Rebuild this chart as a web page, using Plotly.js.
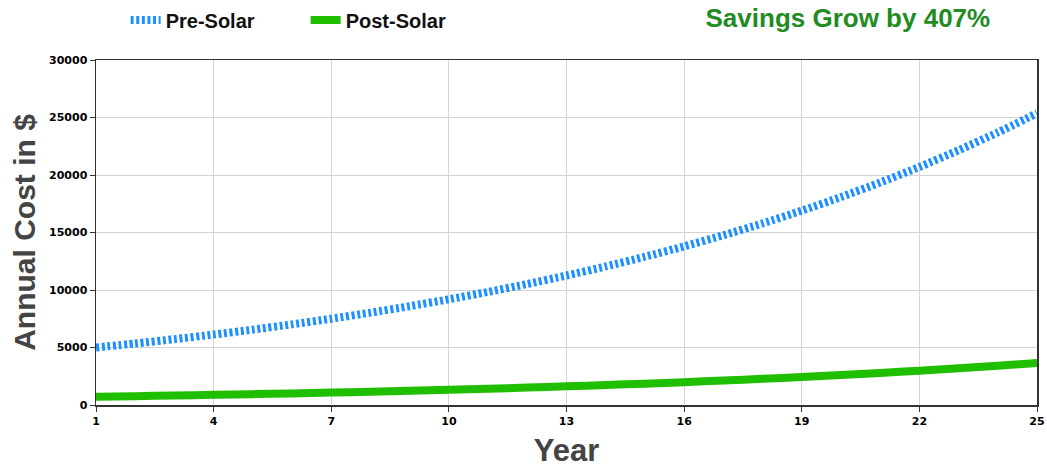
<!DOCTYPE html>
<html>
<head>
<meta charset="utf-8">
<script src="https://cdn.plot.ly/plotly-3.0.1.min.js"></script>
<style>
html,body{margin:0;padding:0;background:#fff;}
#chart{width:1047px;height:468px;}
</style>
</head>
<body>
<div id="chart"></div>
<script>
var years = [1,2,3,4,5,6,7,8,9,10,11,12,13,14,15,16,17,18,19,20,21,22,23,24,25];
var preSolar = [5000,5350,5725,6125,6554,7013,7503,8029,8591,9192,9835,10524,11261,12049,12892,13795,14760,15793,16899,18082,19348,20702,22151,23702,25361];
var postSolar = [720,770,824,882,944,1010,1080,1156,1237,1324,1416,1515,1621,1735,1856,1986,2125,2274,2433,2604,2786,2981,3190,3413,3652];
var seriesNames = ["Pre-Solar","Post-Solar"];
var titleText = "Savings Grow by 407%";
var xTitle = "Year";
var yTitle = "Annual Cost in $";
var xTicks = [1,4,7,10,13,16,19,22,25];
var yTicks = [0,5000,10000,15000,20000,25000,30000];

var traces = [
  {x: years, y: preSolar, name: seriesNames[0], type: "scatter", mode: "lines",
   line: {color: "#1e90ff", width: 8, dash: "3px,2.6px", shape: "spline", smoothing: 0.6}},
  {x: years, y: postSolar, name: seriesNames[1], type: "scatter", mode: "lines",
   line: {color: "#1fbf00", width: 8, shape: "spline", smoothing: 0.6}}
];

var layout = {
  width: 1047, height: 468,
  margin: {l: 96, r: 10, t: 60, b: 63},
  paper_bgcolor: "#fff", plot_bgcolor: "#fff",
  font: {family: "Liberation Sans, Arial, sans-serif", color: "#000"},
  title: {text: titleText, font: {size: 26, color: "#228b22", family: "Liberation Sans, Arial, sans-serif", weight: "bold"},
          x: 0.799, xanchor: "center", xref: "paper", y: 0.962, yanchor: "middle", yref: "container"},
  showlegend: true,
  legend: {orientation: "h", x: 0.0315, xanchor: "left", xref: "paper", y: 0.999, yanchor: "top", yref: "container",
           font: {size: 20, color: "#111", family: "Liberation Sans, Arial, sans-serif", weight: "bold"},
           entrywidth: 135, entrywidthmode: "pixels",
           bgcolor: "rgba(0,0,0,0)", traceorder: "normal"},
  xaxis: {
    range: [1, 25], tickmode: "array", tickvals: xTicks, ticktext: xTicks.map(String),
    showline: true, linecolor: "#333", linewidth: 1.5, mirror: true,
    ticks: "outside", ticklen: 5, tickcolor: "#333",
    showgrid: true, gridcolor: "#d3d3d3", gridwidth: 1, zeroline: false,
    tickfont: {family: "DejaVu Sans, sans-serif", size: 11, color: "#000", weight: "bold"},
    title: {text: xTitle, font: {size: 31, color: "#444", family: "Liberation Sans, Arial, sans-serif", weight: "bold"}, standoff: 17}
  },
  yaxis: {
    range: [0, 30000], tickmode: "array", tickvals: yTicks, ticktext: yTicks.map(String),
    showline: true, linecolor: "#333", linewidth: 1.5, mirror: true,
    ticks: "outside", ticklen: 5, tickcolor: "#333",
    showgrid: true, gridcolor: "#d3d3d3", gridwidth: 1, zeroline: false,
    tickfont: {family: "DejaVu Sans, sans-serif", size: 11, color: "#000", weight: "bold"},
    title: {text: yTitle, font: {size: 30, color: "#444", family: "Liberation Sans, Arial, sans-serif", weight: "bold"}, standoff: 4}
  }
};

Plotly.newPlot("chart", traces, layout, {displayModeBar: false, staticPlot: true});
</script>
</body>
</html>
